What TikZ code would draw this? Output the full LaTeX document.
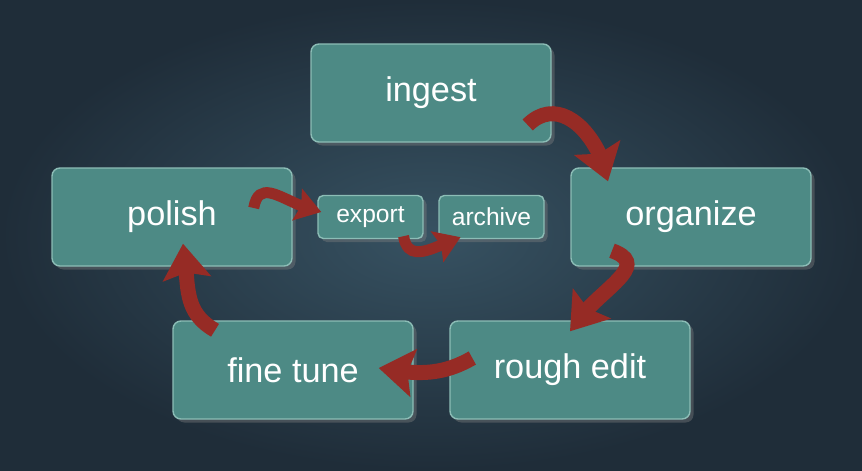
\documentclass[tikz,border=0pt]{standalone}
\usepackage{fontspec}
\setmainfont{Liberation Sans}
\usetikzlibrary{arrows.meta,bending,shadows}
\definecolor{slate}{HTML}{1F2D39}
\definecolor{slatelight}{HTML}{375262}
\definecolor{tealbox}{HTML}{4D8A85}
\definecolor{tealedge}{HTML}{8CBDB6}
\definecolor{flowred}{HTML}{962B25}
\tikzset{stage/.style={draw=tealedge, fill=tealbox, rounded corners=4.5pt, line width=0.8pt,
  minimum width=4.8cm, minimum height=1.96cm, text=white,
  font=\fontsize{19.5}{23}\selectfont, drop shadow={opacity=0.4, shadow xshift=2pt, shadow yshift=-2pt}},
substage/.style={stage, rounded corners=3pt, minimum width=2.1cm, minimum height=0.86cm,
  font=\fontsize{14}{17}\selectfont},
%big arrows between the stages
flow/.style={draw=flowred, line width=0.3cm, -{Stealth[width=0.95cm,length=0.7cm,inset=0.12cm,flex]}},
subflow/.style={draw=flowred, line width=0.22cm, -{Stealth[width=0.65cm,length=0.5cm,inset=0.08cm,flex]}}}

\begin{document}
\begin{tikzpicture}

\shade[inner color=slatelight, outer color=slate] (0,0) rectangle (17.24,9.4);
\useasboundingbox (0,0) rectangle (17.24,9.4);

\node[stage] (ingest) at (8.62,7.54) {ingest};
\node[stage] (organize) at (13.82,5.06) {organize};
\node[stage] (rough) at (11.4,2.0) {rough edit};
\node[stage] (fine) at (5.86,2.0) {fine tune};
\node[stage] (polish) at (3.44,5.06) {polish};
\node[substage] (export) at (7.41,5.06) {export};
\node[substage] (archive) at (9.83,5.06) {archive};

\draw[flow] ([xshift=-0.48cm,yshift=-0.64cm]ingest.east) to[out=45,in=100,looseness=1.2]
  ([xshift=-1.66cm,yshift=-0.28cm]organize.north);
\draw[flow] ([xshift=-1.58cm,yshift=0.32cm]organize.south) to[out=-20,in=60,looseness=1.3]
  ([xshift=0.0cm,yshift=-0.22cm]rough.north);
\draw[flow] ([xshift=0.46cm,yshift=0.24cm]rough.west) to[out=-150,in=-10]
  ([xshift=-0.7cm,yshift=0.04cm]fine.east);
\draw[flow] ([xshift=-1.56cm,yshift=-0.2cm]fine.north) to[out=150,in=-80,looseness=1.1]
  ([xshift=0.22cm,yshift=0.46cm]polish.south);

%small ones
\draw[subflow] ([xshift=-0.78cm,yshift=0.18cm]polish.east) to[out=80,in=170,looseness=1.3]
  ([xshift=0.08cm,yshift=0.1cm]export.west);
\draw[subflow] ([xshift=0.66cm,yshift=0.06cm]export.south) to[out=-80,in=200,looseness=1.3]
  ([xshift=-0.62cm,yshift=0.04cm]archive.south);

\end{tikzpicture}
\end{document}
